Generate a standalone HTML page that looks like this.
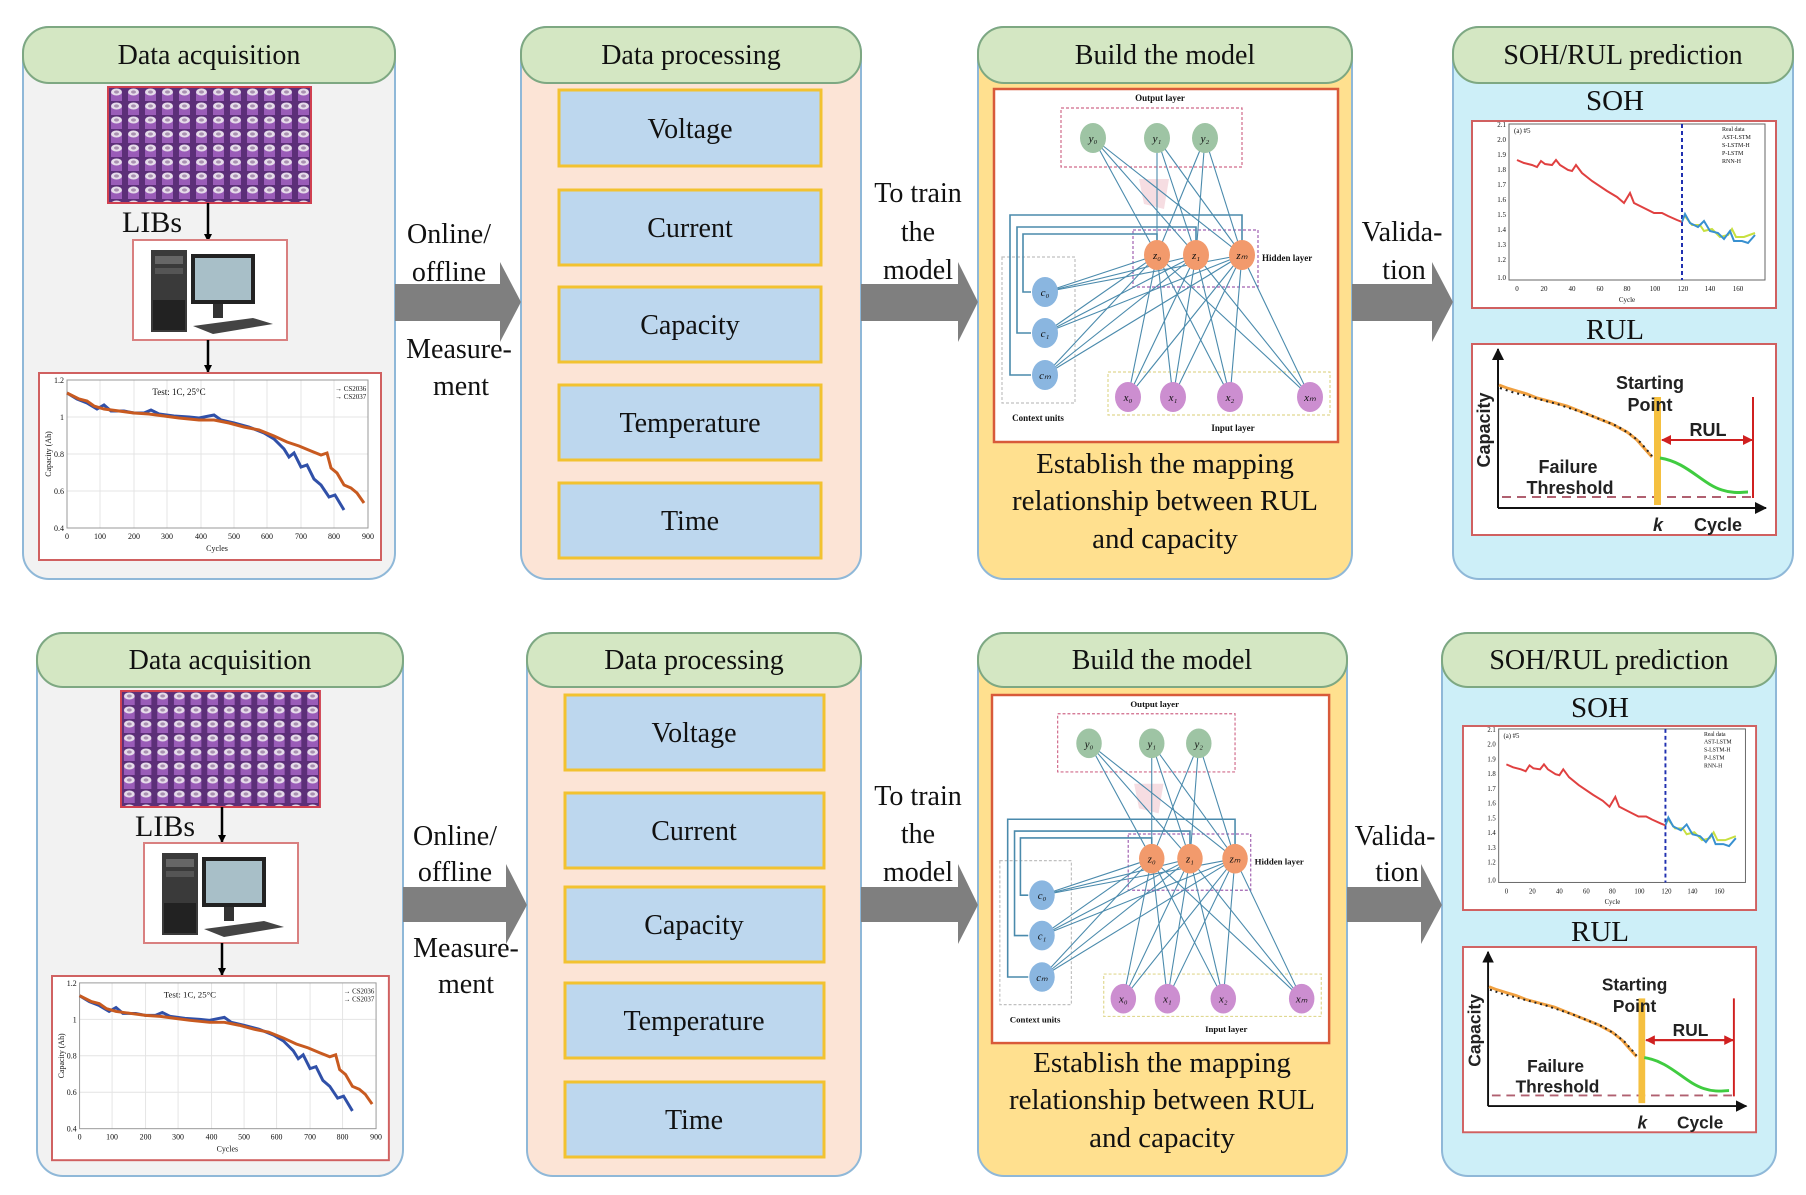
<!DOCTYPE html>
<html><head><meta charset="utf-8"><style>
html,body{margin:0;padding:0;background:#fff;}
svg{display:block;}
.s{font-family:"Liberation Serif",serif;fill:#111;}
.b{font-family:"Liberation Sans",sans-serif;font-weight:bold;fill:#222;}
</style></head><body>
<svg width="1806" height="1195" viewBox="0 0 1806 1195" xmlns="http://www.w3.org/2000/svg">
<defs>
<pattern id="cell" width="17" height="14" patternUnits="userSpaceOnUse">
<rect width="17" height="14" fill="#5c2f78"/>
<rect x="3" y="5" width="11" height="9" fill="#9a5cb8"/>
<ellipse cx="8.5" cy="5" rx="5.5" ry="3.5" fill="#e6dcea"/>
<ellipse cx="8.5" cy="5" rx="2.5" ry="1.6" fill="#a890b0"/>
</pattern>
<marker id="ah" markerWidth="8" markerHeight="8" refX="7" refY="4" orient="auto" markerUnits="userSpaceOnUse"><path d="M0,0 L8,4 L0,8z" fill="#000"/></marker>
<marker id="ar" markerWidth="10" markerHeight="10" refX="9" refY="5" orient="auto" markerUnits="userSpaceOnUse"><path d="M0,0 L10,5 L0,10z" fill="#d02020"/></marker>
<marker id="ab" markerWidth="12" markerHeight="12" refX="11" refY="6" orient="auto" markerUnits="userSpaceOnUse"><path d="M0,0 L12,6 L0,12z" fill="#111"/></marker>

<g id="batt"><rect x="0" y="0" width="203" height="116" fill="url(#cell)" stroke="#d04050" stroke-width="2"/></g>

<g id="comp">
<rect x="0" y="0" width="154" height="100" fill="#fff" stroke="#d98080" stroke-width="2"/>
<rect x="18" y="10" width="36" height="82" fill="#3a3a3a"/>
<rect x="22" y="16" width="28" height="8" fill="#666"/>
<rect x="22" y="28" width="28" height="6" fill="#555"/>
<rect x="20" y="60" width="32" height="30" fill="#222"/>
<rect x="58" y="14" width="64" height="50" fill="#222"/>
<rect x="62" y="18" width="56" height="42" fill="#a8bfc8"/>
<rect x="80" y="64" width="10" height="14" fill="#333"/>
<polygon points="60,86 120,78 140,84 80,94" fill="#444"/>
</g>

<g id="acq">
<rect x="0" y="0" width="342" height="187" fill="#fff" stroke="#d06060" stroke-width="2"/>
<g stroke="#e4e4e4" stroke-width="1">
<line x1="28" y1="44" x2="329" y2="44"/><line x1="28" y1="81" x2="329" y2="81"/><line x1="28" y1="118" x2="329" y2="118"/>
<line x1="61" y1="7" x2="61" y2="155"/><line x1="95" y1="7" x2="95" y2="155"/><line x1="128" y1="7" x2="128" y2="155"/><line x1="162" y1="7" x2="162" y2="155"/><line x1="195" y1="7" x2="195" y2="155"/><line x1="228" y1="7" x2="228" y2="155"/><line x1="262" y1="7" x2="262" y2="155"/><line x1="295" y1="7" x2="295" y2="155"/>
</g>
<rect x="28" y="7" width="301" height="148" fill="none" stroke="#999" stroke-width="1"/>
<polyline fill="none" stroke="#3050a8" stroke-width="3" points="28,20 38,26 48,30 58,36 65,32 72,38 85,38 95,40 105,40 112,37 120,41 135,43 150,44 160,45 170,43 175,42 182,47 195,50 210,54 225,60 235,66 245,76 250,84 255,80 262,94 268,92 275,106 282,112 290,124 296,122 305,137"/>
<polyline fill="none" stroke="#c85a20" stroke-width="3" points="28,20 40,26 48,28 55,33 65,36 80,38 95,40 110,41 125,43 140,45 160,47 175,47 190,50 205,54 220,57 235,63 248,69 260,73 272,78 282,82 288,80 292,95 298,100 305,112 312,115 318,120 325,130"/>
<text class="s" x="140" y="22" font-size="9" text-anchor="middle">Test: 1C, 25°C</text>
<text class="s" x="296" y="18" font-size="7">→ CS2036</text>
<text class="s" x="296" y="26" font-size="7">→ CS2037</text>
<text class="s" x="25" y="10" font-size="8" text-anchor="end">1.2</text>
<text class="s" x="25" y="47" font-size="8" text-anchor="end">1</text>
<text class="s" x="25" y="84" font-size="8" text-anchor="end">0.8</text>
<text class="s" x="25" y="121" font-size="8" text-anchor="end">0.6</text>
<text class="s" x="25" y="158" font-size="8" text-anchor="end">0.4</text>
<g class="s" font-size="8" text-anchor="middle">
<text x="28" y="166">0</text><text x="61" y="166">100</text><text x="95" y="166">200</text><text x="128" y="166">300</text><text x="162" y="166">400</text><text x="195" y="166">500</text><text x="228" y="166">600</text><text x="262" y="166">700</text><text x="295" y="166">800</text><text x="329" y="166">900</text>
<text x="178" y="178">Cycles</text>
</g>
<text class="s" font-size="8" transform="translate(12,81) rotate(-90)" text-anchor="middle">Capacity (Ah)</text>
</g>

<g id="nng">
<rect x="0" y="0" width="344" height="353" fill="#fff" stroke="#d85a3a" stroke-width="2.5"/>
<rect x="67" y="19" width="181" height="59" fill="none" stroke="#d06a8a" stroke-width="1.2" stroke-dasharray="3,2"/>
<rect x="139" y="141" width="125" height="57" fill="none" stroke="#a060b0" stroke-width="1.2" stroke-dasharray="3,2"/>
<rect x="8" y="168" width="73" height="146" fill="none" stroke="#c0c0c0" stroke-width="1.2" stroke-dasharray="3,2"/>
<rect x="114" y="283" width="222" height="43" fill="none" stroke="#e0d890" stroke-width="1.2" stroke-dasharray="3,2"/>
<path d="M145,90 L175,90 L170,120 L150,115z" fill="#f6dde2"/>
<g stroke="#4a8aac" stroke-width="1.1" fill="none">
<line x1="163" y1="166" x2="99" y2="49"/><line x1="163" y1="166" x2="163" y2="49"/><line x1="163" y1="166" x2="211" y2="49"/>
<line x1="202" y1="166" x2="99" y2="49"/><line x1="202" y1="166" x2="163" y2="49"/><line x1="202" y1="166" x2="211" y2="49"/>
<line x1="248" y1="166" x2="99" y2="49"/><line x1="248" y1="166" x2="163" y2="49"/><line x1="248" y1="166" x2="211" y2="49"/>
<line x1="134" y1="308" x2="163" y2="166"/><line x1="134" y1="308" x2="202" y2="166"/><line x1="134" y1="308" x2="248" y2="166"/>
<line x1="179" y1="308" x2="163" y2="166"/><line x1="179" y1="308" x2="202" y2="166"/><line x1="179" y1="308" x2="248" y2="166"/>
<line x1="236" y1="308" x2="163" y2="166"/><line x1="236" y1="308" x2="202" y2="166"/><line x1="236" y1="308" x2="248" y2="166"/>
<line x1="316" y1="308" x2="163" y2="166"/><line x1="316" y1="308" x2="202" y2="166"/><line x1="316" y1="308" x2="248" y2="166"/>
<line x1="51" y1="203" x2="163" y2="166"/><line x1="51" y1="203" x2="202" y2="166"/><line x1="51" y1="203" x2="248" y2="166"/>
<line x1="51" y1="244" x2="163" y2="166"/><line x1="51" y1="244" x2="202" y2="166"/><line x1="51" y1="244" x2="248" y2="166"/>
<line x1="51" y1="286" x2="163" y2="166"/><line x1="51" y1="286" x2="202" y2="166"/><line x1="51" y1="286" x2="248" y2="166"/>
<path d="M248,152 L248,126 L16,126 L16,286 L37,286" stroke-width="1.6"/>
<path d="M202,152 L202,138 L23,138 L23,244 L37,244" stroke-width="1.6"/>
<path d="M163,152 L163,145 L29,145 L29,203 L37,203" stroke-width="1.6"/>
</g>
<g fill="#9ec4a4"><ellipse cx="99" cy="49" rx="13" ry="15"/><ellipse cx="163" cy="49" rx="13" ry="15"/><ellipse cx="211" cy="49" rx="13" ry="15"/></g>
<g fill="#f29a6c"><ellipse cx="163" cy="166" rx="13" ry="15"/><ellipse cx="202" cy="166" rx="13" ry="15"/><ellipse cx="248" cy="166" rx="13" ry="15"/></g>
<g fill="#8ab6e0"><ellipse cx="51" cy="203" rx="13" ry="15"/><ellipse cx="51" cy="244" rx="13" ry="15"/><ellipse cx="51" cy="286" rx="13" ry="15"/></g>
<g fill="#cc8ed0"><ellipse cx="134" cy="308" rx="13" ry="15"/><ellipse cx="179" cy="308" rx="13" ry="15"/><ellipse cx="236" cy="308" rx="13" ry="15"/><ellipse cx="316" cy="308" rx="13" ry="15"/></g>
</g>

<g id="sohg">
<rect x="0" y="0" width="304" height="187" fill="#fff" stroke="#d06060" stroke-width="2"/>
<rect x="37" y="3" width="256" height="156" fill="none" stroke="#666" stroke-width="1"/>
<line x1="210" y1="3" x2="210" y2="159" stroke="#2030b0" stroke-width="2" stroke-dasharray="4,3"/>
<polyline fill="none" stroke="#e04040" stroke-width="2" points="45,39 52,42 60,44 65,46 69,40 73,43 80,44 84,39 88,44 96,49 100,50 104,44 110,52 120,60 135,70 145,76 152,82 158,72 162,82 170,86 182,92 190,92 196,95 205,99 210,101"/>
<polyline fill="none" stroke="#c8e040" stroke-width="2" points="212,94 220,104 228,104 232,110 240,108 248,116 256,114 260,108 264,116 272,116 283,112"/>
<polyline fill="none" stroke="#3890d0" stroke-width="2" points="210,101 213,93 218,102 226,106 232,100 238,110 246,112 252,118 258,110 262,120 270,120 276,122 283,114"/>
<g class="s" font-size="7" text-anchor="end"><text x="34" y="6">2.1</text><text x="34" y="21">2.0</text><text x="34" y="36">1.9</text><text x="34" y="51">1.8</text><text x="34" y="66">1.7</text><text x="34" y="81">1.6</text><text x="34" y="96">1.5</text><text x="34" y="111">1.4</text><text x="34" y="126">1.3</text><text x="34" y="141">1.2</text><text x="34" y="159">1.0</text></g>
<g class="s" font-size="7" text-anchor="middle"><text x="45" y="170">0</text><text x="72" y="170">20</text><text x="100" y="170">40</text><text x="128" y="170">60</text><text x="155" y="170">80</text><text x="183" y="170">100</text><text x="211" y="170">120</text><text x="238" y="170">140</text><text x="266" y="170">160</text><text x="155" y="181">Cycle</text></g>
<text class="s" x="42" y="12" font-size="7">(a) #5</text>
<g class="s" font-size="6"><text x="250" y="10">Real data</text><text x="250" y="18">AST-LSTM</text><text x="250" y="26">S-LSTM-H</text><text x="250" y="34">P-LSTM</text><text x="250" y="42">RNN-H</text></g>
</g>

<g id="rulg">
<rect x="0" y="0" width="304" height="191" fill="#fff" stroke="#d06060" stroke-width="2"/>
<line x1="26" y1="164" x2="26" y2="5" stroke="#111" stroke-width="2" marker-end="url(#ab)"/>
<line x1="26" y1="164" x2="294" y2="164" stroke="#111" stroke-width="2" marker-end="url(#ab)"/>
<line x1="30" y1="153" x2="281" y2="153" stroke="#b06070" stroke-width="2" stroke-dasharray="9,6"/>
<polyline fill="none" stroke="#f0a040" stroke-width="3" points="27,41 35,44 45,47 55,50 65,54 80,58 95,62 110,68 125,74 140,80 155,88 165,96 172,104 180,113"/>
<polyline fill="none" stroke="#222" stroke-width="2" stroke-dasharray="2,4" points="28,44 40,48 55,52 70,56 85,60 100,65 115,70 130,76 145,82 158,90 168,98 175,106 180,112"/>
<rect x="182" y="53" width="7" height="108" fill="#f5c040"/>
<path d="M188,114 C215,118 230,140 250,146 C262,150 270,148 276,148" fill="none" stroke="#40cc40" stroke-width="3"/>
<line x1="281" y1="53" x2="281" y2="154" stroke="#d02020" stroke-width="2"/>
<line x1="281" y1="96" x2="190" y2="96" stroke="#d02020" stroke-width="2" marker-end="url(#ar)"/>
<line x1="190" y1="96" x2="280" y2="96" stroke="#d02020" stroke-width="2" marker-end="url(#ar)"/>
</g>
</defs>

<!-- ========== TOP ROW ========== -->
<rect x="23" y="27" width="372" height="552" rx="26" fill="#f2f2f2" stroke="#8fb8d8" stroke-width="2"/>
<rect x="23" y="27" width="372" height="56" rx="26" fill="#d4e7c3" stroke="#7ea882" stroke-width="2"/>
<text class="s" x="209" y="64" font-size="28" text-anchor="middle">Data acquisition</text>
<use href="#batt" x="108" y="87"/>
<text class="s" x="122" y="232" font-size="30">LIBs</text>
<line x1="208" y1="203" x2="208" y2="241" stroke="#000" stroke-width="2.5" marker-end="url(#ah)"/>
<use href="#comp" x="133" y="240"/>
<line x1="208" y1="340" x2="208" y2="372" stroke="#000" stroke-width="2.5" marker-end="url(#ah)"/>
<use href="#acq" x="39" y="373"/>

<rect x="521" y="27" width="340" height="552" rx="26" fill="#fce4d6" stroke="#8fb8d8" stroke-width="2"/>
<rect x="521" y="27" width="340" height="56" rx="26" fill="#d4e7c3" stroke="#7ea882" stroke-width="2"/>
<text class="s" x="691" y="64" font-size="28" text-anchor="middle">Data processing</text>
<g fill="#bdd7ee" stroke="#f2c230" stroke-width="3">
<rect x="559" y="90" width="262" height="76"/><rect x="559" y="190" width="262" height="75"/><rect x="559" y="287" width="262" height="75"/><rect x="559" y="385" width="262" height="75"/><rect x="559" y="483" width="262" height="75"/>
</g>
<g class="s" font-size="28" text-anchor="middle">
<text x="690" y="138">Voltage</text><text x="690" y="237">Current</text><text x="690" y="334">Capacity</text><text x="690" y="432">Temperature</text><text x="690" y="530">Time</text>
</g>

<polygon points="395,284 500,284 500,262 521,302 500,342 500,321 395,321" fill="#7f7f7f"/>
<g class="s" font-size="28" text-anchor="middle">
<text x="449" y="243">Online/</text><text x="449" y="281">offline</text><text x="459" y="358">Measure-</text><text x="461" y="395">ment</text>
</g>

<rect x="978" y="27" width="374" height="552" rx="26" fill="#ffe08f" stroke="#8fb8d8" stroke-width="2"/>
<rect x="978" y="27" width="374" height="56" rx="26" fill="#d4e7c3" stroke="#7ea882" stroke-width="2"/>
<text class="s" x="1165" y="64" font-size="28" text-anchor="middle">Build the model</text>
<g transform="translate(994,89)">
<use href="#nng"/>
<g class="s" font-size="11" text-anchor="middle" font-style="italic">
<text x="99" y="53">y₀</text><text x="163" y="53">y₁</text><text x="211" y="53">y₂</text>
<text x="163" y="170">z₀</text><text x="202" y="170">z₁</text><text x="248" y="170">zₘ</text>
<text x="51" y="207">c₀</text><text x="51" y="248">c₁</text><text x="51" y="290">cₘ</text>
<text x="134" y="312">x₀</text><text x="179" y="312">x₁</text><text x="236" y="312">x₂</text><text x="316" y="312">xₘ</text>
</g>
<g class="s" font-size="9" font-weight="bold">
<text x="166" y="12" text-anchor="middle">Output layer</text><text x="268" y="172">Hidden layer</text><text x="44" y="332" text-anchor="middle">Context units</text><text x="239" y="342" text-anchor="middle">Input layer</text>
</g>
</g>
<g class="s" font-size="29" text-anchor="middle">
<text x="1165" y="473">Establish the mapping</text><text x="1165" y="510">relationship between RUL</text><text x="1165" y="548">and capacity</text>
</g>

<polygon points="861,284 958,284 958,262 978,302 958,342 958,321 861,321" fill="#7f7f7f"/>
<g class="s" font-size="28" text-anchor="middle">
<text x="918" y="202">To train</text><text x="918" y="241">the</text><text x="918" y="279">model</text>
</g>

<rect x="1453" y="27" width="340" height="552" rx="26" fill="#cdeff8" stroke="#8fb8d8" stroke-width="2"/>
<rect x="1453" y="27" width="340" height="56" rx="26" fill="#d4e7c3" stroke="#7ea882" stroke-width="2"/>
<text class="s" x="1623" y="64" font-size="28" text-anchor="middle">SOH/RUL prediction</text>
<text class="s" x="1615" y="110" font-size="29" text-anchor="middle">SOH</text>
<use href="#sohg" x="1472" y="121"/>
<text class="s" x="1615" y="339" font-size="29" text-anchor="middle">RUL</text>
<g transform="translate(1472,344)">
<use href="#rulg"/>
<g class="b" font-size="18" text-anchor="middle">
<text x="178" y="45">Starting</text><text x="178" y="67">Point</text><text x="236" y="92">RUL</text>
<text x="96" y="129">Failure</text><text x="98" y="150">Threshold</text>
<text x="186" y="187" font-style="italic">k</text><text x="246" y="187">Cycle</text>
<text transform="translate(18,86) rotate(-90)">Capacity</text>
</g>
</g>

<polygon points="1352,284 1432,284 1432,262 1453,302 1432,342 1432,321 1352,321" fill="#7f7f7f"/>
<g class="s" font-size="28" text-anchor="middle">
<text x="1402" y="241">Valida-</text><text x="1404" y="279">tion</text>
</g>

<!-- ========== BOTTOM ROW ========== -->
<rect x="37" y="633" width="366" height="543" rx="26" fill="#f2f2f2" stroke="#8fb8d8" stroke-width="2"/>
<rect x="37" y="633" width="366" height="54" rx="26" fill="#d4e7c3" stroke="#7ea882" stroke-width="2"/>
<text class="s" x="220" y="669" font-size="28" text-anchor="middle">Data acquisition</text>
<g transform="translate(121,691) scale(0.98,1)"><use href="#batt"/></g>
<text class="s" x="135" y="836" font-size="30">LIBs</text>
<line x1="222" y1="807" x2="222" y2="842" stroke="#000" stroke-width="2.5" marker-end="url(#ah)"/>
<use href="#comp" x="144" y="843"/>
<line x1="222" y1="943" x2="222" y2="975" stroke="#000" stroke-width="2.5" marker-end="url(#ah)"/>
<g transform="translate(52,976) scale(0.985,0.985)"><use href="#acq"/></g>

<rect x="527" y="633" width="334" height="543" rx="26" fill="#fce4d6" stroke="#8fb8d8" stroke-width="2"/>
<rect x="527" y="633" width="334" height="54" rx="26" fill="#d4e7c3" stroke="#7ea882" stroke-width="2"/>
<text class="s" x="694" y="669" font-size="28" text-anchor="middle">Data processing</text>
<g fill="#bdd7ee" stroke="#f2c230" stroke-width="3">
<rect x="565" y="695" width="259" height="75"/><rect x="565" y="793" width="259" height="75"/><rect x="565" y="887" width="259" height="75"/><rect x="565" y="983" width="259" height="75"/><rect x="565" y="1082" width="259" height="75"/>
</g>
<g class="s" font-size="28" text-anchor="middle">
<text x="694" y="742">Voltage</text><text x="694" y="840">Current</text><text x="694" y="934">Capacity</text><text x="694" y="1030">Temperature</text><text x="694" y="1129">Time</text>
</g>

<polygon points="403,887 506,887 506,864 527,905 506,944 506,922 403,922" fill="#7f7f7f"/>
<g class="s" font-size="28" text-anchor="middle">
<text x="455" y="845">Online/</text><text x="455" y="881">offline</text><text x="466" y="957">Measure-</text><text x="466" y="993">ment</text>
</g>

<rect x="978" y="633" width="369" height="543" rx="26" fill="#ffe08f" stroke="#8fb8d8" stroke-width="2"/>
<rect x="978" y="633" width="369" height="54" rx="26" fill="#d4e7c3" stroke="#7ea882" stroke-width="2"/>
<text class="s" x="1162" y="669" font-size="28" text-anchor="middle">Build the model</text>
<g transform="translate(992,695) scale(0.98,0.986)">
<use href="#nng"/>
<g class="s" font-size="11" text-anchor="middle" font-style="italic">
<text x="99" y="53">y₀</text><text x="163" y="53">y₁</text><text x="211" y="53">y₂</text>
<text x="163" y="170">z₀</text><text x="202" y="170">z₁</text><text x="248" y="170">zₘ</text>
<text x="51" y="207">c₀</text><text x="51" y="248">c₁</text><text x="51" y="290">cₘ</text>
<text x="134" y="312">x₀</text><text x="179" y="312">x₁</text><text x="236" y="312">x₂</text><text x="316" y="312">xₘ</text>
</g>
<g class="s" font-size="9" font-weight="bold">
<text x="166" y="12" text-anchor="middle">Output layer</text><text x="268" y="172">Hidden layer</text><text x="44" y="332" text-anchor="middle">Context units</text><text x="239" y="342" text-anchor="middle">Input layer</text>
</g>
</g>
<g class="s" font-size="29" text-anchor="middle">
<text x="1162" y="1072">Establish the mapping</text><text x="1162" y="1109">relationship between RUL</text><text x="1162" y="1147">and capacity</text>
</g>

<polygon points="861,887 958,887 958,864 978,905 958,944 958,922 861,922" fill="#7f7f7f"/>
<g class="s" font-size="28" text-anchor="middle">
<text x="918" y="805">To train</text><text x="918" y="843">the</text><text x="918" y="881">model</text>
</g>

<rect x="1442" y="633" width="334" height="543" rx="26" fill="#cdeff8" stroke="#8fb8d8" stroke-width="2"/>
<rect x="1442" y="633" width="334" height="54" rx="26" fill="#d4e7c3" stroke="#7ea882" stroke-width="2"/>
<text class="s" x="1609" y="669" font-size="28" text-anchor="middle">SOH/RUL prediction</text>
<text class="s" x="1600" y="717" font-size="29" text-anchor="middle">SOH</text>
<g transform="translate(1463,726) scale(0.964,0.984)"><use href="#sohg"/></g>
<text class="s" x="1600" y="941" font-size="29" text-anchor="middle">RUL</text>
<g transform="translate(1463,947) scale(0.964,0.97)">
<use href="#rulg"/>
<g class="b" font-size="18" text-anchor="middle">
<text x="178" y="45">Starting</text><text x="178" y="67">Point</text><text x="236" y="92">RUL</text>
<text x="96" y="129">Failure</text><text x="98" y="150">Threshold</text>
<text x="186" y="187" font-style="italic">k</text><text x="246" y="187">Cycle</text>
<text transform="translate(18,86) rotate(-90)">Capacity</text>
</g>
</g>

<polygon points="1347,887 1421,887 1421,864 1442,905 1421,944 1421,922 1347,922" fill="#7f7f7f"/>
<g class="s" font-size="28" text-anchor="middle">
<text x="1395" y="845">Valida-</text><text x="1397" y="881">tion</text>
</g>
</svg>
</body></html>
